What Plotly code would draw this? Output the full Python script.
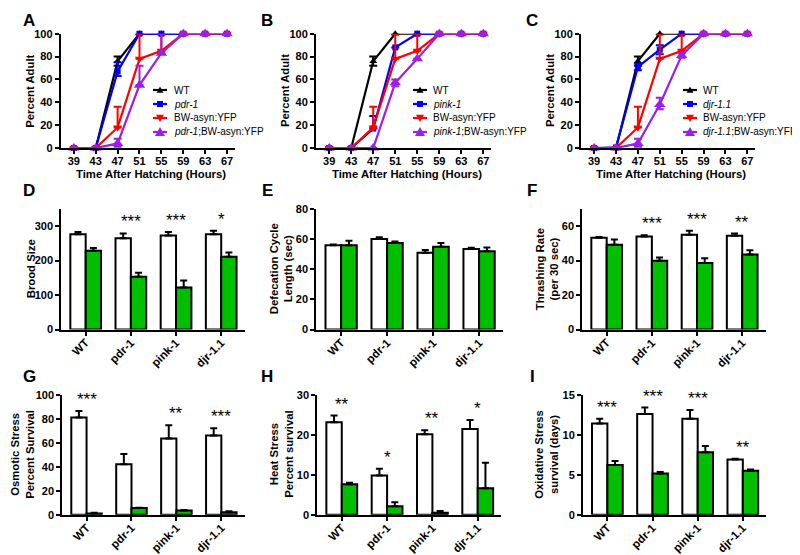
import plotly.graph_objects as go

W, H = 800, 555
FONT = "Liberation Sans"

# ---------------- Data: development (panels A-C) ----------------
hours = [39, 43, 47, 51, 55, 59, 63, 67]
hour_ticks = [39, 43, 47, 51, 55, 59, 63, 67]

wt_dev = [0, 0, 76, 100, 100, 100, 100, 100]
wt_dev_up = [0, 0, 4, 0, 0, 0, 0, 0]
wt_dev_dn = [0, 0, 4, 0, 0, 0, 0, 0]

bw_dev = [0, 0, 18, 78, 85, 100, 100, 100]
bw_dev_up = [0, 0, 18, 22, 15, 0, 0, 0]
bw_dev_dn = [0, 0, 0, 0, 0, 0, 0, 0]

pdr_dev = [0, 0, 67, 100, 100, 100, 100, 100]
pdr_dev_up = [0, 0, 8, 0, 0, 0, 0, 0]
pdr_dev_dn = [0, 0, 4, 0, 0, 0, 0, 0]
pdr_bw_dev = [0, 0, 4, 55, 83, 100, 100, 100]
pdr_bw_dev_up = [0, 0, 4, 17, 17, 0, 0, 0]
pdr_bw_dev_dn = [0, 0, 3, 0, 0, 0, 0, 0]

pink_dev = [0, 0, 17, 88, 100, 100, 100, 100]
pink_dev_up = [0, 0, 11, 0, 0, 0, 0, 0]
pink_dev_dn = [0, 0, 0, 0, 0, 0, 0, 0]
pink_bw_dev = [0, 0, 0, 57, 78, 100, 100, 100]
pink_bw_dev_up = [0, 0, 0, 3, 0, 0, 0, 0]
pink_bw_dev_dn = [0, 0, 0, 3, 0, 0, 0, 0]

djr_dev = [0, 0.5, 71, 86, 100, 100, 100, 100]
djr_dev_up = [0, 0, 3, 4, 0, 0, 0, 0]
djr_dev_dn = [0, 0, 3, 4, 0, 0, 0, 0]
djr_bw_dev = [0, 0, 4, 38, 81, 100, 100, 100]
djr_bw_dev_up = [0, 0, 4, 6, 2, 0, 0, 0]
djr_bw_dev_dn = [0, 0, 3, 4, 2, 0, 0, 0]

# ---------------- Data: phenotype bar charts (panels D-I) ----------------
strains = ["WT", "pdr-1", "pink-1", "djr-1.1"]

brood_ctrl = [277, 265, 273, 277]
brood_ctrl_err = [6, 14, 10, 10]
brood_asyn = [229, 153, 122, 211]
brood_asyn_err = [8, 12, 20, 13]
brood_sig = ["", "***", "***", "*"]

defec_ctrl = [56, 60, 51, 53.5]
defec_ctrl_err = [0.5, 1.2, 1.7, 0.8]
defec_asyn = [56, 57.5, 55, 52]
defec_asyn_err = [3, 1, 2.5, 2.5]
defec_sig = ["", "", "", ""]

thrash_ctrl = [53.3, 54, 55, 54.5]
thrash_ctrl_err = [0.5, 0.8, 2.3, 1.2]
thrash_asyn = [49.3, 40, 38.7, 43.5]
thrash_asyn_err = [3, 1.8, 2.7, 2.5]
thrash_sig = ["", "***", "***", "**"]

osm_ctrl = [81, 42, 63.5, 66]
osm_ctrl_err = [5.5, 8.5, 11, 6]
osm_asyn = [1, 5.5, 3.5, 2]
osm_asyn_err = [0.7, 0.3, 0.4, 0.8]
osm_sig = ["***", "", "**", "***"]

heat_ctrl = [23.1, 9.8, 20.1, 21.4]
heat_ctrl_err = [1.7, 1.7, 1.0, 2.3]
heat_asyn = [7.6, 2.1, 0.5, 6.6]
heat_asyn_err = [0.4, 1.0, 0.4, 6.4]
heat_sig = ["**", "*", "**", "*"]

oxid_ctrl = [11.4, 12.6, 12.0, 6.9]
oxid_ctrl_err = [0.6, 0.8, 1.1, 0.1]
oxid_asyn = [6.2, 5.15, 7.8, 5.5]
oxid_asyn_err = [0.5, 0.2, 0.8, 0.15]
oxid_sig = ["***", "***", "***", "**"]

# ---------------- helpers ----------------
def fx(px):
    return px / W

def fy(py):
    return 1 - py / H

BLACK, BLUE, RED, PURPLE = "#000000", "#0000ff", "#ff0000", "#9b1fe8"
GREEN = "#00bf00"

fig = go.Figure()
annotations = []
shapes = []

axis_common = dict(showline=True, linecolor="black", linewidth=2, ticks="outside",
                   ticklen=4, tickwidth=2, tickcolor="black", showgrid=False,
                   zeroline=False, automargin=False,
                   tickfont=dict(family=FONT, size=11, color="black", weight="bold"))

layout_axes = {}

def ax_name(i, kind):
    return f"{kind}axis" + ("" if i == 1 else str(i))

def ax_ref(i, kind):
    return kind + ("" if i == 1 else str(i))

def paper_text(text, px, py, size, bold=True, angle=0, xanchor="center"):
    f = dict(family=FONT, size=size, color="black")
    if bold:
        f["weight"] = "bold"
    return dict(text=text, xref="paper", yref="paper", x=fx(px), y=fy(py),
                xanchor=xanchor, yanchor="middle", showarrow=False, textangle=angle,
                font=f)

# ---------- development panels ----------
dev_panels = [
    (1, (52.7, 226.7), "pdr-1", [(wt_dev, wt_dev_up, wt_dev_dn), (pdr_dev, pdr_dev_up, pdr_dev_dn),
                                 (bw_dev, bw_dev_up, bw_dev_dn), (pdr_bw_dev, pdr_bw_dev_up, pdr_bw_dev_dn)],
     (145, 164)),
    (2, (308, 483), "pink-1", [(wt_dev, wt_dev_up, wt_dev_dn), (pink_dev, pink_dev_up, pink_dev_dn),
                               (bw_dev, bw_dev_up, bw_dev_dn), (pink_bw_dev, pink_bw_dev_up, pink_bw_dev_dn)],
     (405, 423)),
    (3, (573, 747), "djr-1.1", [(wt_dev, wt_dev_up, wt_dev_dn), (djr_dev, djr_dev_up, djr_dev_dn),
                                (bw_dev, bw_dev_up, bw_dev_dn), (djr_bw_dev, djr_bw_dev_up, djr_bw_dev_dn)],
     (675, 693)),
]
styles = [
    (BLACK, "triangle-up", 7),
    (BLUE, "square", 6),
    (RED, "triangle-down", 8),
    (PURPLE, "triangle-up", 10),
]
legend_rows = [82, 96, 110, 124]

for idx, (x0, x1), mut, series, (lgx, lgtx) in dev_panels:
    names = ["WT", f"<i>{mut}</i>", "BW-asyn:YFP", f"<i>{mut}</i>;BW-asyn:YFP"]
    for (vals, up, dn), (col, sym, msz) in zip(series, styles):
        fig.add_trace(go.Scatter(
            x=hours, y=vals, mode="lines+markers",
            line=dict(color=col, width=2.2),
            marker=dict(color=col, symbol=sym, size=msz, line=dict(width=0)),
            error_y=dict(type="data", symmetric=False, array=up, arrayminus=dn,
                         color=col, thickness=2, width=4),
            cliponaxis=False, showlegend=False,
            xaxis=ax_ref(idx, "x"), yaxis=ax_ref(idx, "y")))
    layout_axes[ax_name(idx, "x")] = dict(axis_common, domain=[fx(x0), fx(x1)],
                                         range=[36.6, 68.4], tickvals=hour_ticks,
                                         ticklabelstandoff=-2,
                                         anchor=ax_ref(idx, "y"))
    layout_axes[ax_name(idx, "y")] = dict(axis_common, domain=[fy(140), fy(25.7)],
                                         range=[0, 100], tickvals=[0, 20, 40, 60, 80, 100],
                                         anchor=ax_ref(idx, "x"))
    annotations.append(paper_text("Time After Hatching (Hours)", (x0 + x1) / 2 + 3.3, 166, 11.3))
    annotations.append(paper_text("Percent Adult", x0 - 31, 83, 11.3, angle=-90))
    # manual legend
    for (col, sym, msz), nm, ry in zip(styles, names, legend_rows):
        shapes.append(dict(type="line", xref="paper", yref="paper",
                           x0=fx(lgx), x1=fx(lgx + 14), y0=fy(ry), y1=fy(ry),
                           line=dict(color=col, width=2.2)))
        cx = lgx + 7
        s = msz * 0.5
        if sym == "square":
            path = f"M{-s:.1f},{-s:.1f} L{s:.1f},{-s:.1f} L{s:.1f},{s:.1f} L{-s:.1f},{s:.1f} Z"
        elif sym == "triangle-up":
            path = f"M{-s:.1f},{-s*0.8:.1f} L{s:.1f},{-s*0.8:.1f} L0,{s:.1f} Z"
        else:
            path = f"M{-s:.1f},{s*0.8:.1f} L{s:.1f},{s*0.8:.1f} L0,{-s:.1f} Z"
        shapes.append(dict(type="path", xref="paper", yref="paper",
                           xsizemode="pixel", ysizemode="pixel",
                           xanchor=fx(cx), yanchor=fy(ry), path=path,
                           fillcolor=col, line=dict(width=0)))
        annotations.append(paper_text(nm, lgtx, ry, 10, bold=False, xanchor="left"))

# ---------- bar panels ----------
bar_panels = [
    (4, (53.3, 236.7), (201, 321.5), 350, 100, brood_ctrl, brood_ctrl_err, brood_asyn, brood_asyn_err,
     brood_sig, "Brood Size", 23),
    (5, (308.3, 495), (201, 321.5), 80, 20, defec_ctrl, defec_ctrl_err, defec_asyn, defec_asyn_err,
     defec_sig, "Defecation Cycle<br>Length (sec)", 273),
    (6, (574.3, 757.7), (201, 321.5), 70, 20, thrash_ctrl, thrash_ctrl_err, thrash_asyn, thrash_asyn_err,
     thrash_sig, "Thrashing Rate<br>(per 30 sec)", 539),
    (7, (54.3, 236.7), (386.7, 506.7), 100, 20, osm_ctrl, osm_ctrl_err, osm_asyn, osm_asyn_err,
     osm_sig, "Osmotic Stress<br>Percent Survival", 15),
    (8, (309.3, 493.3), (386.7, 506.7), 30, 10, heat_ctrl, heat_ctrl_err, heat_asyn, heat_asyn_err,
     heat_sig, "Heat Stress<br>Percent survival", 274),
    (9, (575, 758.3), (386.7, 506.7), 15, 5, oxid_ctrl, oxid_ctrl_err, oxid_asyn, oxid_asyn_err,
     oxid_sig, "Oxidative Stress<br>survival (days)", 539),
]

for idx, (x0, x1), (y0, y1), ymax, dt, c, ce, a, ae, sig, title, tx in bar_panels:
    xr, yr = ax_ref(idx, "x"), ax_ref(idx, "y")
    for vals, errs, col, grp in [(c, ce, "white", "ctrl"), (a, ae, GREEN, "asyn")]:
        fig.add_trace(go.Bar(
            x=strains, y=vals, offsetgroup=grp,
            marker=dict(color=col, line=dict(color="black", width=2)),
            error_y=dict(type="data", symmetric=False, array=errs, arrayminus=[0] * len(errs),
                         color="black", thickness=2, width=3.5),
            showlegend=False, xaxis=xr, yaxis=yr))
    layout_axes[ax_name(idx, "x")] = dict(axis_common, domain=[fx(x0), fx(x1)],
                                         type="category", range=[-0.54, 3.52],
                                         tickangle=-45, ticklabelstandoff=-4,
                                         tickfont=dict(family=FONT, size=11.5, color="black",
                                                       weight="bold"),
                                         anchor=yr)
    layout_axes[ax_name(idx, "y")] = dict(axis_common, domain=[fy(y1), fy(y0)],
                                         range=[0, ymax], dtick=dt, tick0=0, anchor=xr)
    for s_txt, cv, cev, av, aev, st in zip(strains, c, ce, a, ae, sig):
        if st:
            top = max(cv + cev, av + aev)
            annotations.append(dict(text=st, x=s_txt, y=top, xref=xr, yref=yr,
                                    xanchor="center", yanchor="bottom", showarrow=False,
                                    yshift=0,
                                    font=dict(family=FONT, size=17, color="black")))
    annotations.append(paper_text(title, tx, (y0 + y1) / 2, 11.3, angle=-90))

# ---------- panel letters ----------
letters = ["A", "B", "C", "D", "E", "F", "G", "H", "I"]
letter_pos = [(21, 12), (259, 12), (524, 12), (21, 182), (259, 182), (524, 182),
              (21, 368), (259, 368), (524, 368)]
for lt, (lx, ly) in zip(letters, letter_pos):
    annotations.append(paper_text(lt, lx, ly, 17))

fig.update_layout(
    width=W, height=H, autosize=False,
    margin=dict(l=0, r=0, t=0, b=0),
    paper_bgcolor="white", plot_bgcolor="white",
    barmode="group", bargap=0.32, bargroupgap=0,
    font=dict(family=FONT, color="black"),
    annotations=annotations, shapes=shapes,
    **layout_axes,
)

fig.write_html("out.html")
